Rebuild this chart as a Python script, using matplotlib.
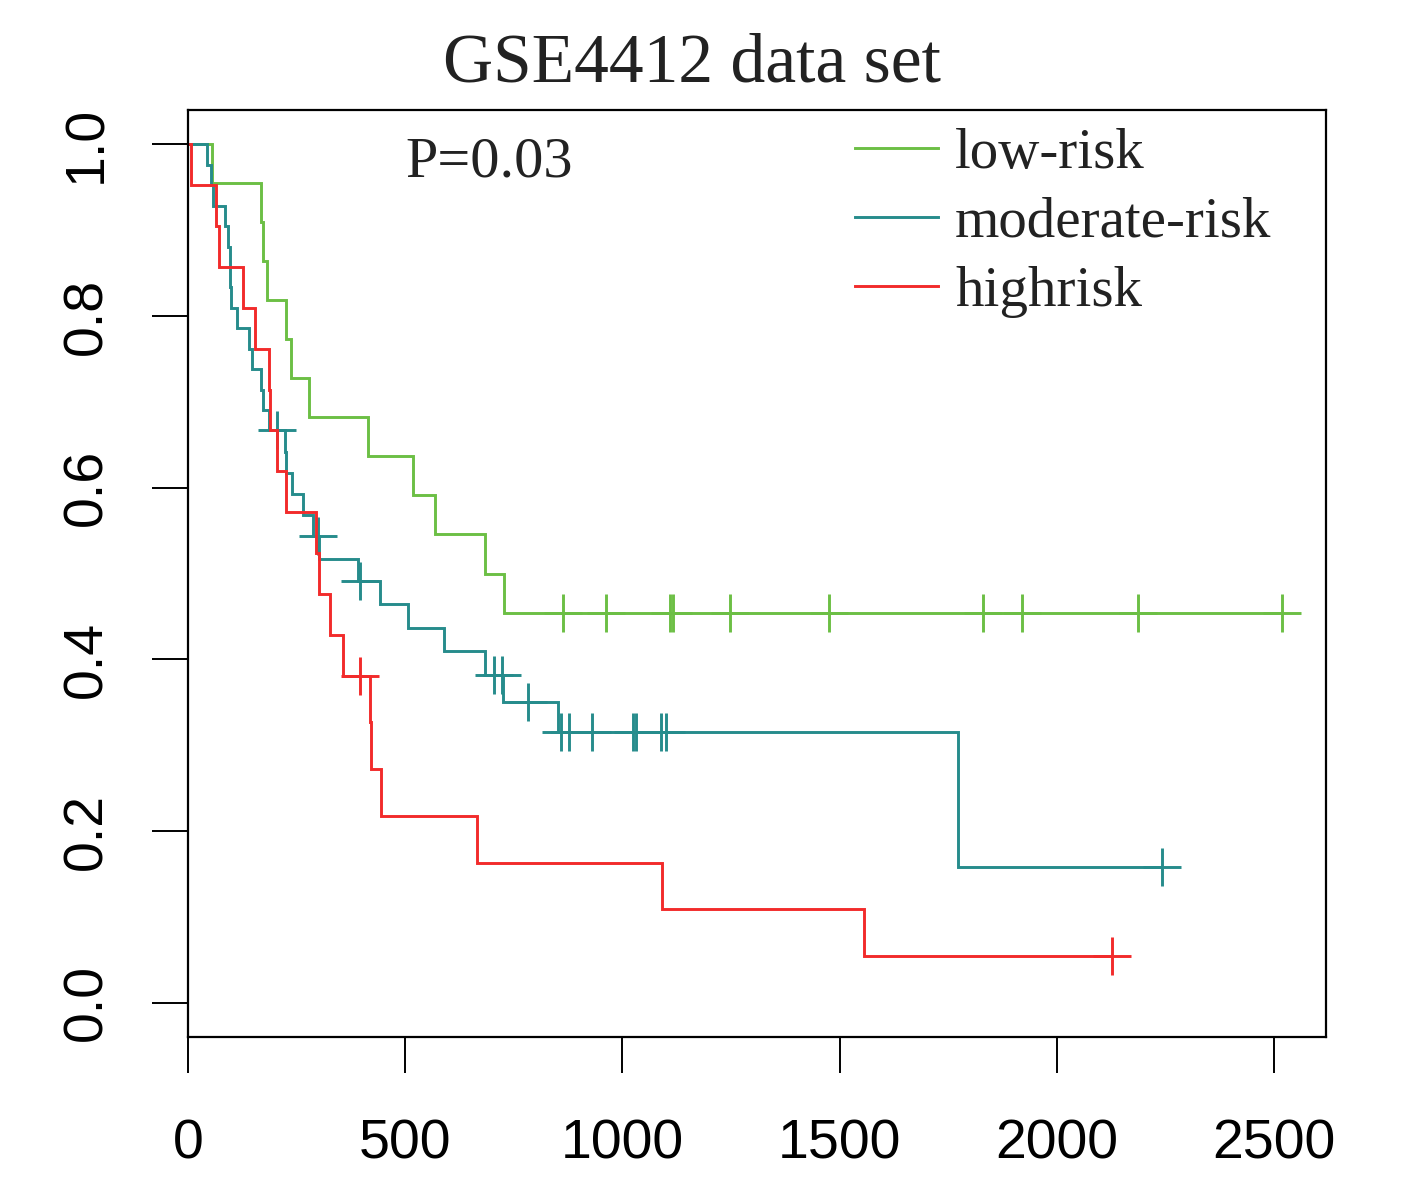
import numpy as np
import matplotlib
matplotlib.use("Agg")
import matplotlib.pyplot as plt
from matplotlib.lines import Line2D

# follow-up (days): deaths and censored cases per risk group
low_death = [55, 168, 173, 182, 226, 237, 279, 414, 518, 569, 684, 727]
low_censor = [863, 962, 1110, 1117, 1248, 1476, 1830, 1920, 2187, 2518]

mod_death = [44, 53, 57, 85, 92, 97, 97, 99, 113, 140, 147, 168, 173, 186,
             223, 226, 239, 265, 288, 302, 391, 442, 506, 589, 684, 725, 852, 1772]
mod_censor = [205, 299, 396, 704, 723, 783, 859, 877, 930, 1024, 1031, 1089, 1100, 2242]

high_death = [7, 64, 71, 127, 154, 186, 189, 205, 226, 295, 302, 327, 357,
              419, 421, 444, 665, 1091, 1556]
high_censor = [396, 2127]

group_names = ["low-risk", "moderate-risk", "highrisk"]
group_colors = ["#6CBF45", "#268C8C", "#F22B2B"]
p_label = "P=0.03"
title = "GSE4412 data set"

serif = "Liberation Serif"
sans = "Liberation Sans"


def km(death, censor):
    """Kaplan-Meier estimate; returns step times and survival after each."""
    t = np.concatenate([death, censor]).astype(float)
    ev = np.concatenate([np.ones(len(death)), np.zeros(len(censor))])
    times = np.unique(death)
    surv = []
    s = 1.0
    for u in times:
        n = np.sum(t >= u)
        d = np.sum((t == u) & (ev == 1))
        s *= 1 - d / n
        surv.append(s)
    return times.astype(float), np.array(surv), t.max()


fig = plt.figure(figsize=(14.04, 11.83), dpi=100)
ax = fig.add_axes([188 / 1404, 1 - 1037 / 1183, 1138 / 1404, 927 / 1183])

groups = [(low_death, low_censor), (mod_death, mod_censor), (high_death, high_censor)]
for (death, censor), col in zip(groups, group_colors):
    times, surv, tend = km(death, censor)
    xs = np.concatenate([[0], times, [tend]])
    ys = np.concatenate([[1.0], surv, [surv[-1]]])
    ax.plot(xs, ys, drawstyle="steps-post", color=col, lw=2.1, solid_joinstyle="miter")
    # survival level at each censored time
    idx = np.searchsorted(times, censor, side="right") - 1
    cy = np.where(idx >= 0, surv[np.clip(idx, 0, None)], 1.0)
    ax.plot(censor, cy, ls="none", marker="+", ms=27, mew=2.1, color=col)

ax.set_xlim(0, 2620)
ax.set_ylim(-0.04, 1.04)
ax.set_xticks(np.arange(0, 2501, 500))
ax.set_yticks(np.arange(0, 1.01, 0.2))
ax.set_xticklabels([str(v) for v in range(0, 2501, 500)], fontfamily=sans, fontsize=40)
ax.set_yticklabels(["%.1f" % v for v in np.arange(0, 1.01, 0.2)], fontfamily=sans,
                   fontsize=40, rotation=90, va="center")
ax.tick_params(axis="x", direction="out", length=26, width=1.4, pad=33)
ax.tick_params(axis="y", direction="out", length=26, width=1.4, pad=28)
for sp in ax.spines.values():
    sp.set_linewidth(1.6)

ax.text(500, 0.963, p_label, fontfamily=serif, fontsize=42, ha="left", va="baseline",
        color="#222222")

handles = [Line2D([], [], color=c, lw=2.1) for c in group_colors]
ax.legend(handles, group_names, loc="upper left", bbox_to_anchor=(0.586, 0.981),
          frameon=False, prop={"family": serif, "size": 41}, handlelength=1.46,
          handletextpad=0.3, labelspacing=0.3, borderpad=0, borderaxespad=0,
          labelcolor="#222222")

fig.text(0.493, 0.945, title, fontfamily=serif, fontsize=50, ha="center", va="center",
         color="#222222")

fig.savefig("out.png", dpi=100)
